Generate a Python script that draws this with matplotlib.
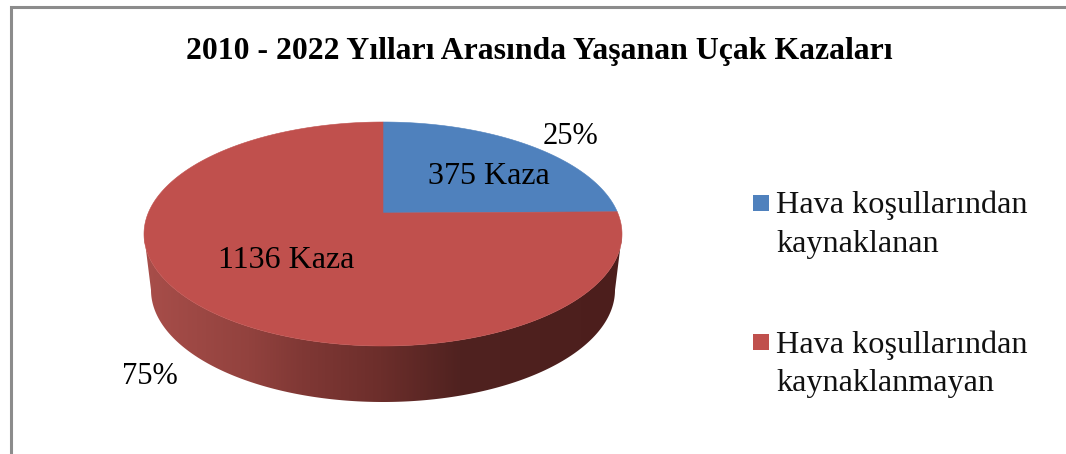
import numpy as np
import matplotlib
matplotlib.use("Agg")
import matplotlib.pyplot as plt
from matplotlib.patches import Polygon, Rectangle

plt.rcParams['font.family'] = ['Liberation Serif', 'DejaVu Serif']

TITLE = "2010 - 2022 Yılları Arasında Yaşanan Uçak Kazaları"
categories = ["Hava koşullarından\nkaynaklanan", "Hava koşullarından\nkaynaklanmayan"]
values = [375, 1136]
percent_labels = ["25%", "75%"]
value_labels = ["375 Kaza", "1136 Kaza"]
colors = ["#4F81BD", "#C0504D"]

W, H = 1066, 454
CX, CY, RX, RY = 383, 234, 239, 112
TILT = 21 / 112
BOTTOM_CY, BOTTOM_RX, BOTTOM_RY = 290, 232, 112

fig = plt.figure(figsize=(W / 100, H / 100), dpi=100)
ax = fig.add_axes([0, 0, 1, 1])
ax.set_xlim(0, W)
ax.set_ylim(H, 0)
ax.axis("off")


def project(frac):
    """Map a fraction of the circle (clockwise from top) to the tilted pie top."""
    t = 2 * np.pi * np.asarray(frac)
    u, v = np.sin(t), np.cos(t)
    d = 1 + TILT * v
    return CX + RX * u * np.sqrt(1 - TILT ** 2) / d, CY - RY * (v + TILT) / d


apex = (CX, CY - RY * TILT)

# side wall with a horizontal gradient, clipped to its outline
a = np.linspace(np.pi, 0, 300)
upper = np.column_stack([CX + RX * np.cos(a), CY + RY * np.sin(a)])
lower = np.column_stack([CX + BOTTOM_RX * np.cos(a), BOTTOM_CY + BOTTOM_RY * np.sin(a)])
wall_patch = Polygon(np.vstack([upper, lower[::-1]]), closed=True, fc="none", ec="none")
ax.add_patch(wall_patch)
stops = np.array([[0.0, 168, 78, 74], [0.22, 146, 66, 62], [0.33, 128, 56, 53],
                  [0.495, 108, 46, 43], [0.66, 80, 34, 32], [1.0, 76, 30, 28]])
g = np.linspace(0, 1, 512)
grad = np.stack([np.interp(g, stops[:, 0], stops[:, i]) for i in (1, 2, 3)], axis=-1)[None, :, :] / 255
im = ax.imshow(grad, extent=(CX - RX, CX + RX, BOTTOM_CY + BOTTOM_RY, CY - 30), aspect="auto", zorder=2)
im.set_clip_path(wall_patch)
ax.set_xlim(0, W)
ax.set_ylim(H, 0)

# top face wedges
fractions = np.array(values) / sum(values)
edges = np.r_[0, np.cumsum(fractions)]
for i, c in enumerate(colors):
    f = np.linspace(edges[i], edges[i + 1], 300)
    x, y = project(f)
    pts = np.column_stack([np.r_[apex[0], x], np.r_[apex[1], y]])
    ax.add_patch(Polygon(pts, closed=True, fc=c, ec=c, lw=0.4, zorder=3))

# frame (left and top only are visible)
ax.plot([10.5, 10.5, W], [H, 6.5, 6.5], color="#8C8C8C", lw=2.2, solid_joinstyle="miter", zorder=1)

ax.text(539, 51, TITLE, ha="center", va="center", fontsize=22.9, fontweight="bold", color="black", zorder=5)

ax.text(571, 137, percent_labels[0], ha="center", va="center", fontsize=22, zorder=5)
ax.text(150, 377, percent_labels[1], ha="center", va="center", fontsize=22, zorder=5)
ax.text(489, 176, value_labels[0], ha="center", va="center", fontsize=23, zorder=5)
ax.text(286, 260, value_labels[1], ha="center", va="center", fontsize=23, zorder=5)

legend_y = [195, 334]
for c, lab, y in zip(colors, categories, legend_y):
    ax.add_patch(Rectangle((753, y), 16, 16, fc=c, ec="none", zorder=5))
    ax.text(776, y - 4, lab, ha="left", va="top", fontsize=23.2, linespacing=1.44, color="#111111", zorder=5)

fig.savefig("out.png", dpi=100)
